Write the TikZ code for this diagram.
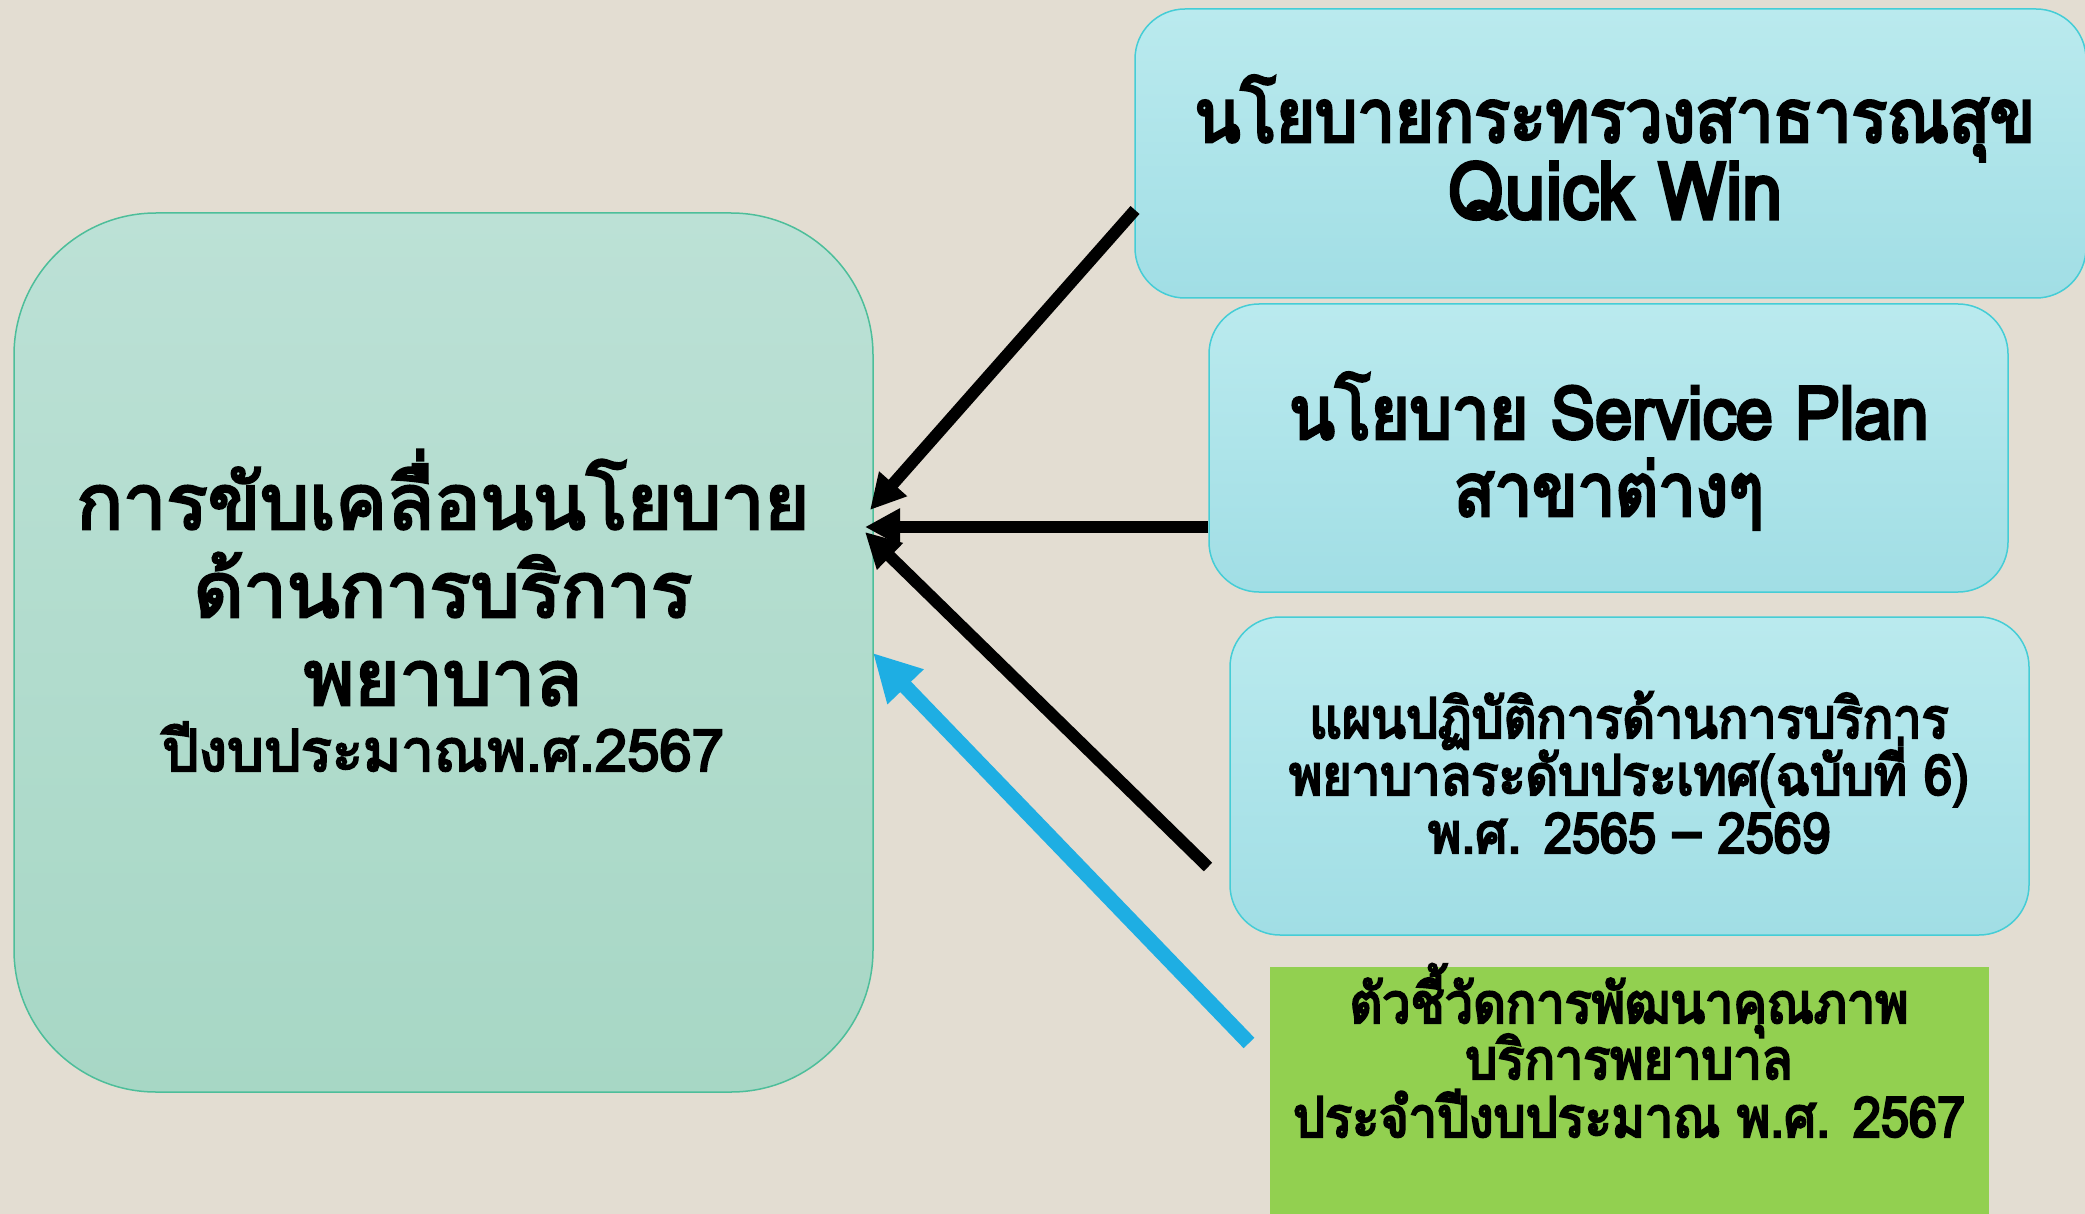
\documentclass[tikz,border=0pt]{standalone}
\usepackage{fontspec}
\usetikzlibrary{arrows.meta}
\newfontfamily\thaiwide[Script=Thai,FakeBold=3.5]{Loma}
\newfontfamily\thaicond[Script=Thai,FakeStretch=0.9,FakeBold=4]{Loma}
\definecolor{bg}{HTML}{E3DDD2}
\definecolor{mainTop}{HTML}{BCE1D6}
\definecolor{mainBot}{HTML}{A7D7C5}
\definecolor{mainLine}{HTML}{4DBE9A}
\definecolor{cyTop}{HTML}{BAEAEE}
\definecolor{cyBot}{HTML}{A1DEE5}
\definecolor{cyLine}{HTML}{45CDD6}
\definecolor{greenBox}{HTML}{92D050}
\definecolor{blueArrow}{HTML}{1EAEE3}
\tikzset{
  mainbox/.style={draw=mainLine, line width=1.5pt, rounded corners=142pt, top color=mainTop, bottom color=mainBot, inner sep=0pt},
  cybox/.style={draw=cyLine, line width=1.5pt, rounded corners=50pt, top color=cyTop, bottom color=cyBot, inner sep=0pt},
  grbox/.style={fill=greenBox, inner sep=0pt},
  bigtxt/.style={anchor=base, inner sep=0pt, font=\thaiwide\fontsize{77}{88}\selectfont},
  midtxt/.style={anchor=base, inner sep=0pt, font=\thaiwide\fontsize{58}{66}\selectfont},
  condL/.style={anchor=base, inner sep=0pt, font=\thaicond\fontsize{74}{77}\selectfont},
  condS/.style={anchor=base, inner sep=0pt, font=\thaicond\fontsize{56}{58}\selectfont},
  blackarrow/.style={line width=12pt, -{Triangle[length=35pt,width=35pt]}},
  bluearrow/.style={draw=blueArrow, line width=15pt, -{Triangle[length=47pt,width=47pt]}}
}
\begin{document}
\begin{tikzpicture}[x=1pt,y=-1pt]
\useasboundingbox (0,0) rectangle (2085,1214);
\fill[bg] (0,0) rectangle (2085,1214);
\begin{scope}
\clip (0,0) rectangle (2085,1214);
% boxes
\node[mainbox, minimum width=859pt, minimum height=879pt] (main) at (443.5,652.5) {};
\node[cybox, minimum width=951pt, minimum height=289pt] (quick) at (1610.5,153.5) {};
\node[cybox, minimum width=799pt, minimum height=288pt] (service) at (1608.5,448) {};
\node[cybox, minimum width=799pt, minimum height=318pt] (plan) at (1629.5,776) {};
\node[grbox, minimum width=719pt, minimum height=253pt] (kpi) at (1629.5,1093.5) {};
\end{scope}
% texts main
\node[bigtxt] (m1) at (443,529) {การขับเคลื่อนนโยบาย};
\node[bigtxt] (m2) at (443,617) {ด้านการบริการ};
\node[bigtxt] (m3) at (443,705) {พยาบาล};
\node[midtxt] (m4) at (443,771) {ปีงบประมาณพ.ศ.2567};
% quick win
\node[condL] (q1) at (1615,142) {นโยบายกระทรวงสาธารณสุข};
\node[condL, font=\thaicond\fontsize{80}{80}\selectfont] (q2) at (1615,219) {Quick Win};
% service plan
\node[condL] (s1) at (1609,439) {นโยบาย Service Plan};
\node[condL] (s2) at (1609,516) {สาขาต่างๆ};
% plan
\node[condS] (p1) at (1629,738) {แผนปฏิบัติการด้านการบริการ};
\node[condS] (p2) at (1629,795) {พยาบาลระดับประเทศ(ฉบับที่ 6)};
\node[condS] (p3) at (1629,853) {พ.ศ. 2565 – 2569};
% kpi
\node[condS] (k1) at (1629,1023) {ตัวชี้วัดการพัฒนาคุณภาพ};
\node[condS] (k2) at (1629,1079) {บริการพยาบาล};
\node[condS] (k3) at (1629,1137) {ประจำปีงบประมาณ พ.ศ. 2567};
% connector ends
\coordinate (a1s) at (1135,210);
\coordinate (a1t) at (870,510);
\coordinate (a2s) at (1208,527);
\coordinate (a2t) at (865,527);
\coordinate (a3s) at (1208,867);
\coordinate (a3t) at (865,532);
\coordinate (a4s) at (1249,1043);
\coordinate (a4t) at (873,653);
\draw[blackarrow] (a1s) -- (a1t);
\draw[blackarrow] (a2s) -- (a2t);
\draw[blackarrow] (a3s) -- (a3t);
\draw[bluearrow] (a4s) -- (a4t);
\end{tikzpicture}
\end{document}
